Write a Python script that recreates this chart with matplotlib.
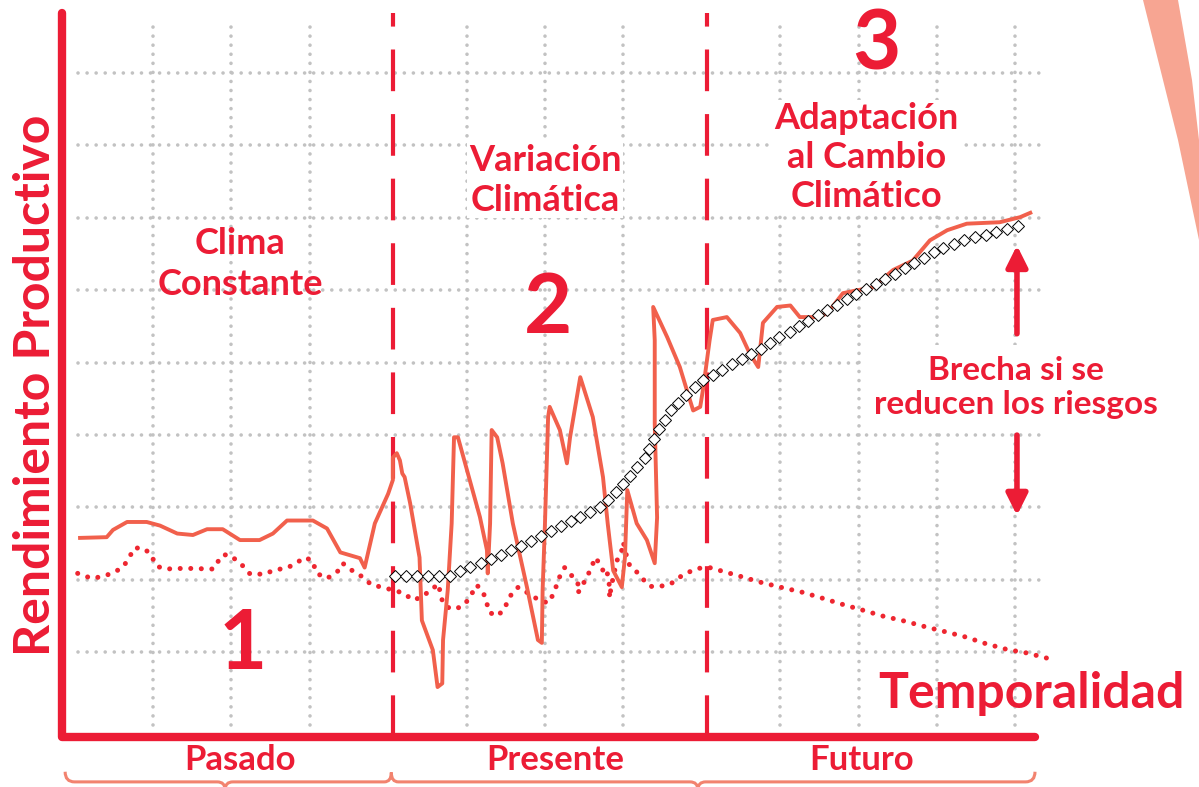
import matplotlib
matplotlib.use('Agg')
import matplotlib.pyplot as plt
from matplotlib.patches import Polygon, PathPatch
from matplotlib.path import Path

# colores
RED = '#EC1C35'
LINE_RED = '#F1604C'
DOT_RED = '#EE2630'
GRID = '#C2C2C2'
BRACE = '#F2836F'

# ---- datos (unidades de la cuadricula) ----
# rendimiento real (linea continua)
t_real = [0.07, 0.41, 0.49, 0.67, 0.92, 1.09, 1.31, 1.51, 1.69, 1.89, 2.11, 2.36, 2.53, 2.71,
          3.04, 3.22, 3.39, 3.64, 3.70, 3.83, 4.00, 4.06, 4.06, 4.11, 4.15, 4.18, 4.21, 4.28,
          4.40, 4.43, 4.57, 4.63, 4.69, 4.70, 4.76, 4.81, 4.84, 4.89, 5.04, 5.17, 5.26, 5.27,
          5.30, 5.32, 5.39, 5.46, 5.59, 5.77, 5.91, 5.96, 5.97, 6.00, 6.04, 6.06, 6.19, 6.28,
          6.32, 6.45, 6.61, 6.74, 6.80, 6.87, 6.98, 7.02, 7.05, 7.17, 7.30, 7.40, 7.43, 7.40,
          7.40, 7.38, 7.56, 7.72, 7.81, 7.89, 7.98, 8.02, 8.10, 8.14, 8.32, 8.49, 8.61, 8.72,
          8.78, 8.96, 9.13, 9.25, 9.47, 9.60, 9.80, 9.98, 10.18, 10.44, 10.69, 10.91, 11.13,
          11.38, 11.80, 12.06, 12.19]
y_real = [2.58, 2.59, 2.69, 2.80, 2.80, 2.75, 2.64, 2.62, 2.70, 2.70, 2.55, 2.55, 2.64, 2.82,
          2.82, 2.71, 2.38, 2.30, 2.17, 2.78, 3.19, 3.38, 3.69, 3.75, 3.65, 3.47, 3.42, 3.06,
          2.31, 1.44, 1.03, 0.52, 0.57, 1.17, 1.86, 2.78, 3.97, 3.97, 3.38, 2.87, 2.41, 2.09,
          2.78, 4.07, 3.97, 3.61, 2.78, 1.90, 1.17, 1.13, 1.86, 2.78, 4.25, 4.39, 4.07, 3.61,
          3.97, 4.80, 4.25, 3.42, 2.78, 2.13, 1.90, 2.31, 3.24, 2.78, 2.55, 2.23, 2.86, 4.16,
          5.31, 5.77, 5.35, 4.94, 4.62, 4.34, 4.39, 4.66, 5.31, 5.59, 5.63, 5.41, 5.13, 4.94,
          5.55, 5.77, 5.79, 5.63, 5.63, 5.68, 5.96, 6.00, 6.04, 6.28, 6.41, 6.69, 6.83,
          6.92, 6.94, 7.01, 7.07]

# clima constante (linea punteada)
t_base = [0.04, 0.22, 0.32, 0.45, 0.60, 0.68, 0.76, 0.87, 0.96, 1.05, 1.15, 1.41, 1.77, 1.88,
          1.96, 2.07, 2.15, 2.24, 2.43, 2.53, 2.72, 2.84, 2.93, 3.03, 3.09, 3.22, 3.35, 3.42,
          3.54, 3.66, 3.79, 3.92, 4.19, 4.32, 4.44, 4.56, 4.65, 4.66, 4.70, 4.79, 4.92, 5.02,
          5.13, 5.21, 5.26, 5.27, 5.36, 5.46, 5.52, 5.58, 5.66, 5.78, 5.91, 6.04, 6.10, 6.15,
          6.19, 6.25, 6.34, 6.42, 6.42, 6.48, 6.54, 6.60, 6.64, 6.70, 6.74, 6.79, 6.80, 6.83,
          6.82, 6.87, 6.92, 6.98, 7.00, 7.03, 7.06, 7.17, 7.25, 7.34, 7.47, 7.61, 7.72, 7.84,
          7.96, 8.10, 8.23, 8.49, 8.74, 9.00, 9.28, 9.53, 9.80, 10.06, 10.31, 10.59, 10.86,
          11.12, 11.37, 11.62, 11.89, 12.15, 12.40]
y_base = [2.09, 2.02, 2.04, 2.08, 2.16, 2.27, 2.44, 2.44, 2.37, 2.19, 2.15, 2.16, 2.15, 2.34,
          2.35, 2.27, 2.19, 2.08, 2.08, 2.13, 2.17, 2.24, 2.31, 2.27, 2.09, 2.02, 2.11, 2.23,
          2.13, 2.05, 1.93, 1.90, 1.82, 1.72, 1.77, 1.88, 1.94, 1.82, 1.68, 1.60, 1.62, 1.72,
          1.93, 1.83, 1.69, 1.58, 1.50, 1.56, 1.69, 1.82, 1.90, 1.82, 1.73, 1.68, 1.79, 1.93,
          2.05, 2.17, 2.06, 1.95, 1.82, 1.93, 2.05, 2.19, 2.31, 2.22, 2.13, 2.16, 2.04, 1.88,
          1.75, 2.04, 2.27, 2.41, 2.52, 2.38, 2.23, 2.11, 2.01, 1.91, 1.91, 1.95, 2.04, 2.11,
          2.16, 2.17, 2.13, 2.05, 1.97, 1.90, 1.83, 1.75, 1.66, 1.58, 1.50, 1.43, 1.35,
          1.28, 1.21, 1.12, 1.04, 0.99, 0.92]

# tendencia con adaptacion (rombos)
t_adapt = [4.09, 4.23, 4.37, 4.51, 4.65, 4.79, 4.92, 5.05, 5.18, 5.31, 5.44, 5.57, 5.70, 5.82,
           5.95, 6.08, 6.20, 6.33, 6.45, 6.58, 6.70, 6.80, 6.90, 7.00, 7.09, 7.18, 7.27, 7.33,
           7.39, 7.45, 7.53, 7.61, 7.70, 7.80, 7.91, 8.01, 8.14, 8.26, 8.38, 8.51, 8.63, 8.75,
           8.87, 8.99, 9.12, 9.24, 9.36, 9.48, 9.60, 9.72, 9.85, 9.97, 10.09, 10.22, 10.34,
           10.47, 10.59, 10.71, 10.83, 10.96, 11.08, 11.22, 11.35, 11.48, 11.62, 11.75, 11.89,
           12.03]
y_adapt = [2.05, 2.05, 2.05, 2.06, 2.06, 2.06, 2.12, 2.18, 2.24, 2.29, 2.35, 2.41, 2.47, 2.54,
           2.60, 2.67, 2.74, 2.81, 2.87, 2.94, 3.01, 3.11, 3.22, 3.33, 3.44, 3.56, 3.68, 3.81,
           3.95, 4.09, 4.21, 4.34, 4.45, 4.56, 4.66, 4.76, 4.83, 4.90, 4.98, 5.05, 5.12, 5.19,
           5.27, 5.35, 5.43, 5.51, 5.58, 5.66, 5.73, 5.80, 5.88, 5.95, 6.02, 6.09, 6.16,
           6.23, 6.31, 6.38, 6.45, 6.53, 6.59, 6.64, 6.70, 6.73, 6.77, 6.81, 6.85, 6.89]

grid_x = [1, 2, 3, 5, 6, 7, 9, 10, 11, 12]
grid_y = [1, 2, 3, 4, 5, 6, 7, 8, 9]
cortes = [4.06, 8.07]
etapas = ['Pasado', 'Presente', 'Futuro']
etapa_x = [2.11, 6.13, 10.04]

plt.rcParams['font.family'] = ['Lato', 'DejaVu Sans']
plt.rcParams['font.weight'] = 'bold'

fig = plt.figure(figsize=(11.99, 7.87), dpi=100)
ax = fig.add_axes([62 / 1199, 50 / 787, 973 / 1199, 724 / 787])
ax.set_xlim(-0.16, 12.25)
ax.set_ylim(-0.17, 9.83)
ax.axis('off')

# adorno naranja arriba a la derecha
fig.add_artist(Polygon([(1143 / 1199, 1), (1178 / 1199, 1), (1192 / 1199, 1 - 80 / 787),
                        (1, 1 - 140 / 787), (1, 1 - 240 / 787), (1178 / 1199, 1 - 140 / 787),
                        (1158 / 1199, 1 - 60 / 787)],
                       closed=True, transform=fig.transFigure, color='#F7A592', lw=0, zorder=0))

# cuadricula punteada
dots = (0, (0.01, 2.5))
ax.vlines(grid_x, 0.0, 9.73, colors=GRID, lw=2.6, linestyles=[dots], capstyle='round', zorder=1)
ax.hlines(grid_y, 0.04, 12.38, colors=GRID, lw=2.6, linestyles=[dots], capstyle='round',
          zorder=1, clip_on=False)

# cortes de periodo
for xc in cortes:
    ax.plot([xc, xc], [-0.17, 9.83], color=RED, lw=3, ls=(0, (10, 5.5)), zorder=2)

# ejes
ax.plot([-0.16, -0.16, 12.25], [9.83, -0.17, -0.17], color=RED, lw=6,
        solid_capstyle='round', solid_joinstyle='round', clip_on=False, zorder=6)

# series
ax.plot(t_base, y_base, color=DOT_RED, lw=3.6, ls=(0, (0.01, 2.1)), dash_capstyle='round',
        clip_on=False, zorder=3)
ax.plot(t_real, y_real, color=LINE_RED, lw=2.8, solid_joinstyle='round', zorder=4)
ax.plot(t_adapt, y_adapt, ls='none', marker='D', ms=6.5, mfc='white', mec='black', mew=0.7,
        zorder=5)

# textos
txt = dict(color=RED, fontweight='bold', ha='center', va='center')
box = dict(facecolor='white', edgecolor='none', pad=1)
ax.text(-0.5, 4.69, 'Rendimiento Productivo', rotation=90, fontsize=36, **txt)
ax.text(2.11, 6.36, 'Clima\nConstante', fontsize=26, linespacing=1.3, **txt)
ax.text(6.0, 7.52, 'Variación\nClimática', fontsize=26, linespacing=1.25, bbox=box, **txt)
ax.text(10.1, 7.84, 'Adaptación\nal Cambio\nClimático', fontsize=26, linespacing=1.22,
        bbox=box, **txt)
ax.text(12.01, 4.66, 'Brecha si se\nreducen los riesgos', fontsize=24, linespacing=1.2,
        bbox=dict(facecolor='white', edgecolor='none', pad=8), zorder=7, **txt)
ax.text(2.15, 1.10, '1', fontsize=60, **txt)
ax.text(6.04, 5.73, '2', fontsize=60, **txt)
ax.text(10.23, 9.38, '3', fontsize=60, **txt)
ax.text(12.2, 0.43, 'Temporalidad', fontsize=36, **txt)
for lab, xl in zip(etapas, etapa_x):
    ax.text(xl, -0.49, lab, fontsize=25, **txt)

# flechas de la brecha
ax.annotate('', xy=(12.02, 6.62), xytext=(12.02, 5.40),
            arrowprops=dict(arrowstyle='-|>', color=RED, lw=4, mutation_scale=32,
                            shrinkA=0, shrinkB=0))
ax.annotate('', xy=(12.02, 2.89), xytext=(12.02, 4.0),
            arrowprops=dict(arrowstyle='-|>', color=RED, lw=4, mutation_scale=32,
                            shrinkA=0, shrinkB=0))

# llaves inferiores
yb = -0.79
verts = [(-0.12, -0.65), (-0.12, yb), (0.0, yb), (1.82, yb), (1.92, yb), (1.92, -0.9),
         (1.92, yb), (2.02, yb), (3.95, yb), (4.04, yb), (4.04, -0.66), (4.04, yb), (4.13, yb),
         (7.85, yb), (7.95, yb), (7.95, -0.9), (7.95, yb), (8.05, yb), (12.13, yb),
         (12.25, yb), (12.25, -0.65)]
codes = [Path.MOVETO, Path.CURVE3, Path.CURVE3, Path.LINETO, Path.CURVE3, Path.CURVE3,
         Path.CURVE3, Path.CURVE3, Path.LINETO, Path.CURVE3, Path.CURVE3, Path.CURVE3,
         Path.CURVE3, Path.LINETO, Path.CURVE3, Path.CURVE3, Path.CURVE3, Path.CURVE3,
         Path.LINETO, Path.CURVE3, Path.CURVE3]
ax.add_patch(PathPatch(Path(verts, codes), fill=False, edgecolor=BRACE, lw=2.2, clip_on=False))

fig.savefig('out.png', dpi=100)
